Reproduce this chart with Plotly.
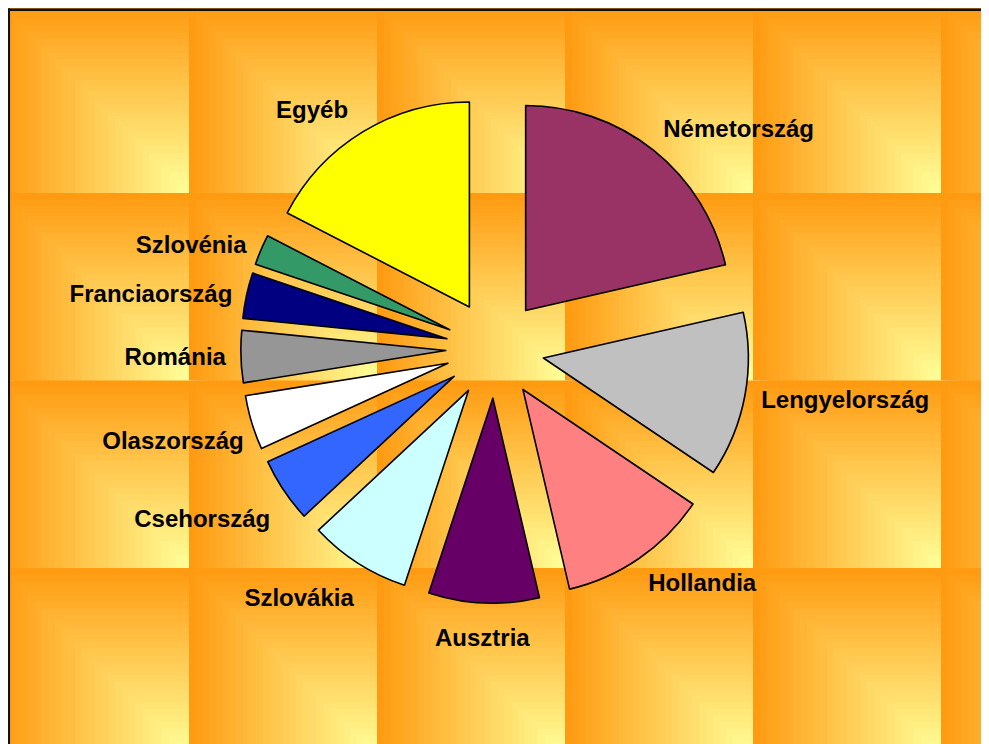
import math
import plotly.graph_objects as go

# country shares (percent)
countries = ["Németország", "Lengyelország", "Hollandia", "Ausztria", "Szlovákia",
             "Csehország", "Olaszország", "Románia", "Franciaország", "Szlovénia", "Egyéb"]
shares = [21.4, 13.0, 11.9, 8.7, 8.0, 5.1, 4.3, 4.1, 3.6, 2.4, 17.4]
colors = ["#993366", "#C0C0C0", "#FF8080", "#660066", "#CCFFFF",
          "#3366FF", "#FFFFFF", "#969696", "#000080", "#339966", "#FFFF00"]
bottom_side = ["Ausztria"]

W, H = 989, 744
PULL = 0.24
FONT = dict(family="Liberation Sans", size=24, color="black", weight="bold")

# --- tiled "from corner" gradient fill (orange -> light yellow), built from nested squares
def mix(t):
    a = (255, 153, 16)
    b = (255, 255, 153)
    return "rgb(%d,%d,%d)" % tuple(round(a[i] + (b[i] - a[i]) * t) for i in range(3))

tile_w, tile_h = 188, 187.5
x_start, y_start = -7, -2.5
steps = 28
shapes = []
for j in range(4):
    for i in range(6):
        tx, ty = x_start + i * tile_w, y_start + j * tile_h
        for k in range(steps):
            t = k / steps
            shapes.append(dict(
                type="rect", xref="paper", yref="paper", layer="below",
                x0=(tx + t * tile_w) / W, x1=(tx + tile_w) / W,
                y0=1 - (ty + t * tile_h) / H, y1=1 - (ty + tile_h) / H,
                fillcolor=mix(t + 0.5 / steps), line=dict(width=0)))
# chart frame (only the left and top edges fall inside the picture)
frame = dict(type="line", xref="paper", yref="paper", layer="below",
             line=dict(color="#111", width=2.5))
shapes.append(dict(frame, x0=0.8 / W, x1=0.8 / W, y0=1 - 0.5 / H, y1=0))
shapes.append(dict(frame, x0=0, x1=1, y0=1 - 1.8 / H, y1=1 - 1.8 / H))

cx_px, cy_px, r_px = 487, 341, 205
cx, cy = cx_px / W, 1 - cy_px / H
half = r_px * (1 + PULL) / H

fig = go.Figure()
# slices
fig.add_trace(go.Pie(
    labels=countries, values=shares, sort=False, direction="clockwise", rotation=0,
    marker=dict(colors=colors, line=dict(color="black", width=1.6)),
    pull=[PULL] * len(countries), textinfo="none", automargin=False,
    domain=dict(x=[cx - 0.45, cx + 0.45], y=[cy - half, cy + half]),
    showlegend=False, hoverinfo="label+percent",
))

# outside labels: invisible copies of the pie, a bit larger, so the text sits further out
def label_pie(names, scale, dx=0, rot=0):
    h = half * scale
    c = (cx_px + dx) / W
    return go.Pie(
        labels=countries, values=shares, sort=False, direction="clockwise", rotation=rot,
        marker=dict(colors=["rgba(0,0,0,0)"] * len(countries), line=dict(width=0)),
        pull=[PULL] * len(countries), automargin=False,
        text=[n if n in names else "" for n in countries],
        textinfo="text", textposition="outside", textfont=FONT,
        domain=dict(x=[c - 0.45, c + 0.45], y=[cy - h, cy + h]),
        showlegend=False, hoverinfo="skip",
    )

fig.add_trace(label_pie(["Németország", "Lengyelország", "Hollandia"], 1.07, dx=-8))
fig.add_trace(label_pie(["Románia", "Franciaország", "Szlovénia"], 1.03))
fig.add_trace(label_pie(["Egyéb"], 1.06))
fig.add_trace(label_pie(["Olaszország"], 1.025, rot=-3.3))
fig.add_trace(label_pie(["Szlovákia", "Csehország"], 1.075, rot=-3.3))

# the bottom label is centred under its slice
annotations = []
total = sum(shares)
acc = 0
for name, v in zip(countries, shares):
    mid = math.radians(360 * (acc + v / 2) / total)
    acc += v
    if name in bottom_side:
        rr = r_px * (1 + PULL) + 19
        annotations.append(dict(
            text=name, showarrow=False, xref="paper", yref="paper",
            x=(cx_px + rr * math.sin(mid)) / W, y=1 - (cy_px - rr * math.cos(mid)) / H,
            xanchor="center", yanchor="top", font=FONT))

fig.update_layout(
    width=W, height=H,
    margin=dict(l=0, r=0, t=0, b=0, pad=0, autoexpand=False),
    paper_bgcolor="white", plot_bgcolor="rgba(0,0,0,0)",
    shapes=shapes, annotations=annotations,
)

fig.write_html("out.html")
